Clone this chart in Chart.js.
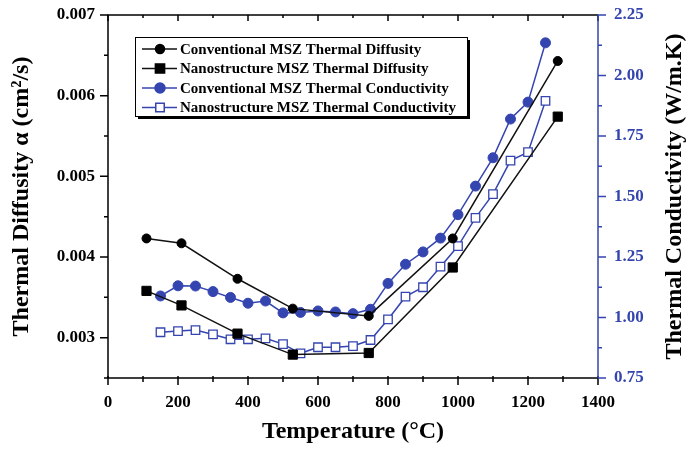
<!DOCTYPE html>
<html>
<head>
<meta charset="utf-8">
<script src="https://cdn.jsdelivr.net/npm/chart.js@4.4.0/dist/chart.umd.min.js"></script>
<style>
  html, body { margin: 0; padding: 0; background: #fff; }
  canvas { display: block; }
</style>
</head>
<body>
<canvas id="thermalChart" width="687" height="449"></canvas>
<script>
// Diffusivity measurements (cm^2/s)
const diffTemps = [110, 210, 370, 528, 745, 985, 1285];
const convDiffusivity = [0.00423, 0.00417, 0.00373, 0.00336, 0.00327, 0.00423, 0.00643];
const nanoDiffusivity = [0.00358, 0.00340, 0.00305, 0.00279, 0.00281, 0.00387, 0.00574];

// Conductivity measurements (W/m.K)
const condTemps = [150, 200, 250, 300, 350, 400, 450, 500, 550, 600, 650, 700,
                   750, 800, 850, 900, 950, 1000, 1050, 1100, 1150, 1200, 1250];
const convConductivity = [1.089, 1.131, 1.130, 1.107, 1.083, 1.059, 1.068, 1.019, 1.021, 1.027, 1.023, 1.016,
                          1.034, 1.141, 1.220, 1.271, 1.328, 1.425, 1.543, 1.660, 1.820, 1.890, 2.135];
const nanoConductivity = [0.939, 0.944, 0.948, 0.930, 0.910, 0.910, 0.914, 0.890, 0.852, 0.877, 0.877, 0.882,
                          0.907, 0.992, 1.086, 1.125, 1.210, 1.295, 1.412, 1.510, 1.648, 1.683, 1.895];

// Tick labels
const xTicks = [0, 200, 400, 600, 800, 1000, 1200, 1400];
const diffTicks = [0.003, 0.004, 0.005, 0.006, 0.007];
const condTicks = [0.75, 1.00, 1.25, 1.50, 1.75, 2.00, 2.25];

const BLUE = '#3545b0';
const SERIF = "'Liberation Serif', 'Times New Roman', serif";
const RIGHT_TITLE = 'Thermal Conductivity (W/m.K)';

function pts(xs, ys) {
  return xs.map((x, i) => ({ x: x, y: ys[i] }));
}

function fixedTicks(list) {
  return (scale) => { scale.ticks = list.map(v => ({ value: v })); };
}

// pin an axis box to a fixed size and drop label overflow padding
function fixedSize(prop, size) {
  return (s) => {
    s[prop] = size;
    s.paddingTop = 0;
    s.paddingBottom = 0;
    s.paddingLeft = 0;
    s.paddingRight = 0;
  };
}

// Frame, blue right axis and in/out tick marks (major + minor)
const frameTicks = {
  id: 'frameTicks',
  beforeDatasetsDraw(chart) {
    const { ctx, chartArea: a, scales } = chart;
    ctx.save();
    ctx.lineWidth = 1.5;
    ctx.strokeStyle = '#000';
    ctx.beginPath();
    ctx.moveTo(a.right, a.top);
    ctx.lineTo(a.left, a.top);
    ctx.lineTo(a.left, a.bottom);
    ctx.lineTo(a.right, a.bottom);
    ctx.stroke();

    ctx.beginPath();
    for (let v = 0; v <= 1400; v += 100) {
      const px = scales.x.getPixelForValue(v);
      const len = v % 200 === 0 ? 7 : 4;
      ctx.moveTo(px, a.bottom - 2);
      ctx.lineTo(px, a.bottom + len);
      ctx.moveTo(px, a.top);
      ctx.lineTo(px, a.top + len - 1);
    }
    for (let k = 0; k <= 9; k++) {
      const v = 0.0025 + k * 0.0005;
      const py = scales.y.getPixelForValue(v);
      const len = k % 2 === 1 ? 8 : 4;
      ctx.moveTo(a.left, py);
      ctx.lineTo(a.left - len, py);
    }
    ctx.stroke();

    ctx.strokeStyle = BLUE;
    ctx.beginPath();
    ctx.moveTo(a.right, a.top);
    ctx.lineTo(a.right, a.bottom);
    for (let k = 0; k <= 12; k++) {
      const v = 0.75 + k * 0.125;
      const py = scales.y1.getPixelForValue(v);
      const len = k % 2 === 0 ? 8 : 4;
      ctx.moveTo(a.right, py);
      ctx.lineTo(a.right + len, py);
    }
    ctx.stroke();
    ctx.restore();
  },
  afterDraw(chart) {
    // right axis title reads bottom-to-top
    const { ctx, chartArea: a } = chart;
    ctx.save();
    ctx.translate(chart.width - 12, (a.top + a.bottom) / 2);
    ctx.rotate(-Math.PI / 2);
    ctx.font = 'bold 24px ' + SERIF;
    ctx.fillStyle = '#000';
    ctx.textAlign = 'center';
    ctx.textBaseline = 'middle';
    ctx.fillText(RIGHT_TITLE, 0, 0);
    ctx.restore();
  }
};

// Boxed legend with drop shadow inside the plot
const boxLegend = {
  id: 'boxLegend',
  afterDraw(chart) {
    const { ctx } = chart;
    const bx = 135, by = 37, bw = 332, bh = 79;
    ctx.save();
    ctx.fillStyle = '#000';
    ctx.fillRect(bx + 3, by + 3, bw, bh);
    ctx.fillStyle = '#fff';
    ctx.fillRect(bx, by, bw, bh);
    ctx.strokeStyle = '#000';
    ctx.lineWidth = 1;
    ctx.strokeRect(bx + 0.5, by + 0.5, bw, bh);

    ctx.font = 'bold 15px ' + SERIF;
    ctx.textBaseline = 'middle';
    chart.data.datasets.forEach((ds, i) => {
      const y = by + 12 + i * 19.5;
      ctx.strokeStyle = ds.borderColor;
      ctx.lineWidth = ds.borderWidth;
      ctx.beginPath();
      ctx.moveTo(bx + 7, y);
      ctx.lineTo(bx + 42, y);
      ctx.stroke();
      ctx.fillStyle = ds.pointBackgroundColor;
      ctx.strokeStyle = ds.pointBorderColor;
      Chart.helpers.drawPoint(ctx, {
        pointStyle: ds.pointStyle,
        radius: ds.pointRadius,
        rotation: 0,
        borderWidth: ds.pointBorderWidth
      }, bx + 25, y);
      ctx.fillStyle = '#000';
      ctx.fillText(ds.label, bx + 45, y + 1);
    });
    ctx.restore();
  }
};

new Chart(document.getElementById('thermalChart'), {
  type: 'line',
  data: {
    datasets: [
      {
        label: 'Conventional MSZ Thermal Diffusity',
        data: pts(diffTemps, convDiffusivity),
        yAxisID: 'y',
        borderColor: '#111',
        borderWidth: 1.5,
        pointStyle: 'circle',
        pointRadius: 4.5,
        pointBackgroundColor: '#000',
        pointBorderColor: '#000',
        pointBorderWidth: 1
      },
      {
        label: 'Nanostructure MSZ Thermal Diffusity',
        data: pts(diffTemps, nanoDiffusivity),
        yAxisID: 'y',
        borderColor: '#111',
        borderWidth: 1.5,
        pointStyle: 'rect',
        pointRadius: 6.5,
        pointBackgroundColor: '#000',
        pointBorderColor: '#000',
        pointBorderWidth: 1
      },
      {
        label: 'Conventional MSZ Thermal Conductivity',
        data: pts(condTemps, convConductivity),
        yAxisID: 'y1',
        borderColor: BLUE,
        borderWidth: 1.5,
        pointStyle: 'circle',
        pointRadius: 5,
        pointBackgroundColor: BLUE,
        pointBorderColor: BLUE,
        pointBorderWidth: 1
      },
      {
        label: 'Nanostructure MSZ Thermal Conductivity',
        data: pts(condTemps, nanoConductivity),
        yAxisID: 'y1',
        borderColor: BLUE,
        borderWidth: 1.5,
        pointStyle: 'rect',
        pointRadius: 6,
        pointBackgroundColor: '#fff',
        pointBorderColor: BLUE,
        pointBorderWidth: 1.3
      }
    ]
  },
  options: {
    responsive: false,
    animation: false,
    layout: { padding: { top: 15 } },
    plugins: {
      legend: { display: false },
      tooltip: { enabled: false }
    },
    scales: {
      x: {
        type: 'linear',
        min: 0,
        max: 1400,
        afterBuildTicks: fixedTicks(xTicks),
        afterFit: fixedSize('height', 71),
        grid: { display: false },
        border: { display: false },
        ticks: {
          padding: 6,
          color: '#000',
          maxRotation: 0,
          font: { family: SERIF, size: 17, weight: 'bold' },
          callback: (v) => String(v)
        },
        title: {
          display: true,
          text: 'Temperature (°C)',
          color: '#000',
          padding: { top: 0, bottom: 3 },
          font: { family: SERIF, size: 24, weight: 'bold' }
        }
      },
      y: {
        position: 'left',
        min: 0.0025,
        max: 0.007,
        afterBuildTicks: fixedTicks(diffTicks),
        afterFit: fixedSize('width', 108),
        grid: { display: false },
        border: { display: false },
        ticks: {
          padding: 5,
          color: '#000',
          font: { family: SERIF, size: 17, weight: 'bold' },
          callback: (v) => v.toFixed(3)
        },
        title: {
          display: true,
          text: 'Thermal Diffusity α (cm²/s)',
          color: '#000',
          padding: { top: 7, bottom: 0 },
          font: { family: SERIF, size: 24, weight: 'bold' }
        }
      },
      y1: {
        position: 'right',
        min: 0.75,
        max: 2.25,
        afterBuildTicks: fixedTicks(condTicks),
        afterFit: fixedSize('width', 89),
        grid: { display: false },
        border: { display: false },
        ticks: {
          padding: 8,
          color: BLUE,
          font: { family: SERIF, size: 17, weight: 'bold' },
          callback: (v) => v.toFixed(2)
        }
      }
    }
  },
  plugins: [frameTicks, boxLegend]
});
</script>
</body>
</html>
